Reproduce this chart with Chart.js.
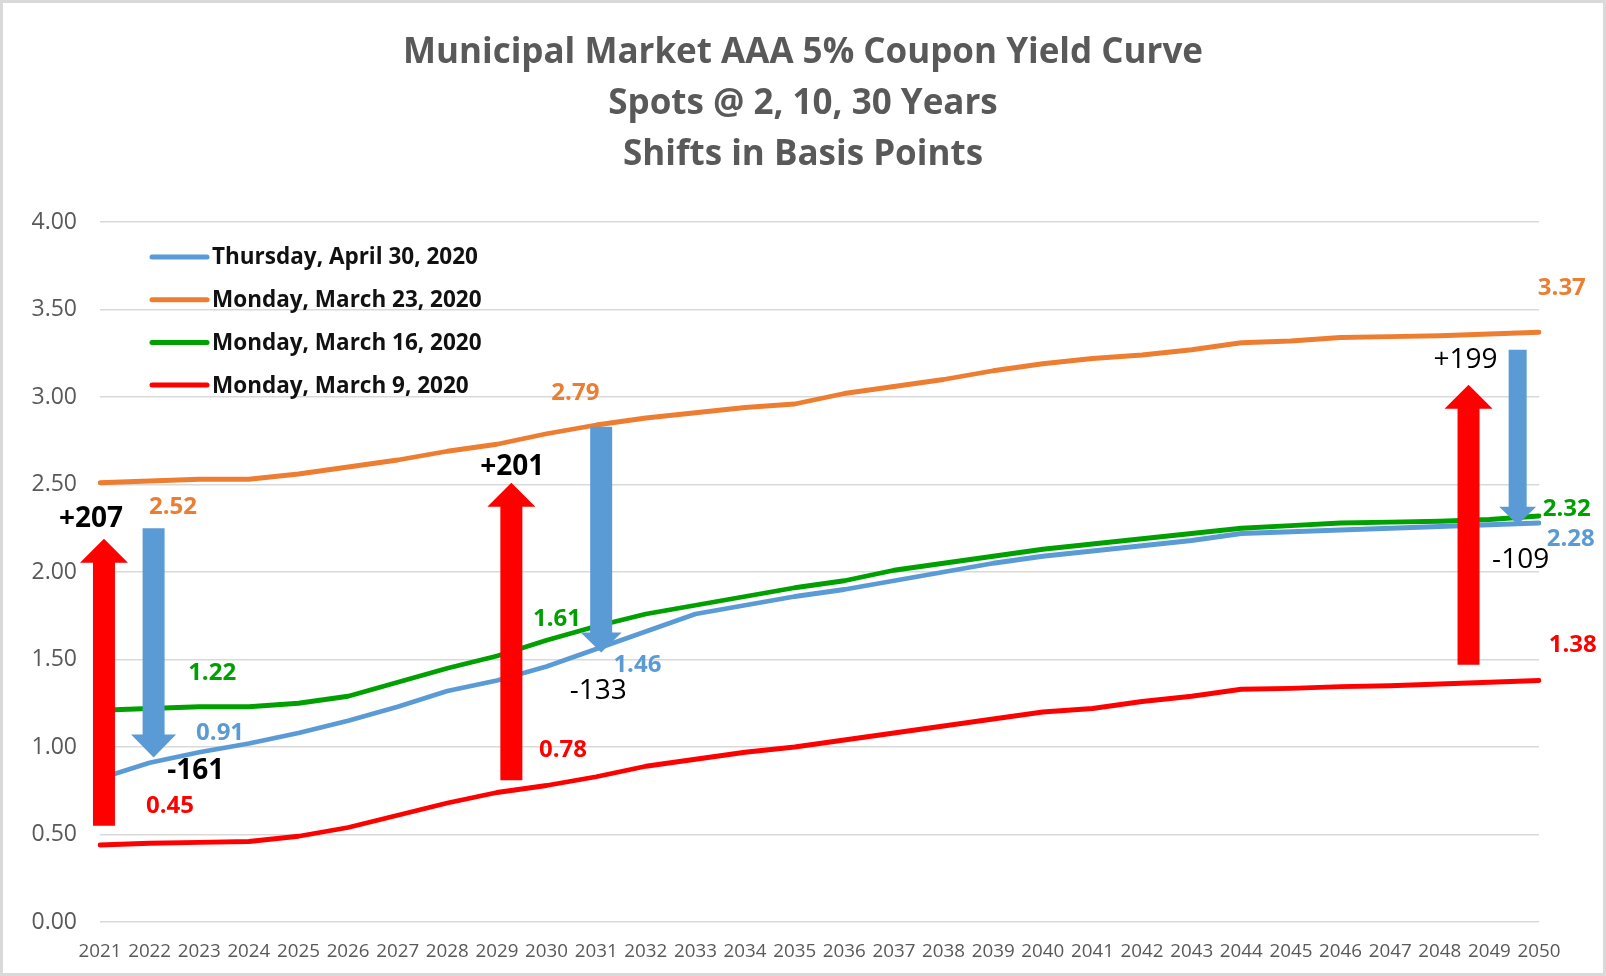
<!DOCTYPE html>
<html>
<head>
<meta charset="utf-8">
<title>Municipal Market AAA 5% Coupon Yield Curve</title>
<script src="https://cdn.jsdelivr.net/npm/chart.js@4.4.1/dist/chart.umd.min.js"></script>
<style>
    html, body { margin: 0; padding: 0; background: #fff; }
    #wrap { width: 1606px; height: 976px; position: relative; }
</style>
</head>
<body>
<div id="wrap"><canvas id="yieldChart"></canvas></div>
<script>
// ===== DATA =====
const years = ['2021', '2022', '2023', '2024', '2025', '2026', '2027', '2028', '2029', '2030',
               '2031', '2032', '2033', '2034', '2035', '2036', '2037', '2038', '2039', '2040',
               '2041', '2042', '2043', '2044', '2045', '2046', '2047', '2048', '2049', '2050'];

const april30 = [0.82, 0.91, 0.97, 1.02, 1.08, 1.15, 1.23, 1.32, 1.38, 1.46,
                 1.56, 1.66, 1.76, 1.81, 1.86, 1.90, 1.95, 2.00, 2.05, 2.09,
                 2.12, 2.15, 2.18, 2.22, 2.23, 2.24, 2.25, 2.26, 2.27, 2.28];

const march23 = [2.51, 2.52, 2.53, 2.53, 2.56, 2.60, 2.64, 2.69, 2.73, 2.79,
                 2.84, 2.88, 2.91, 2.94, 2.96, 3.02, 3.06, 3.10, 3.15, 3.19,
                 3.22, 3.24, 3.27, 3.31, 3.32, 3.34, 3.345, 3.35, 3.36, 3.37];

const march16 = [1.21, 1.22, 1.23, 1.23, 1.25, 1.29, 1.37, 1.45, 1.52, 1.61,
                 1.69, 1.76, 1.81, 1.86, 1.91, 1.95, 2.01, 2.05, 2.09, 2.13,
                 2.16, 2.19, 2.22, 2.25, 2.265, 2.28, 2.285, 2.29, 2.30, 2.32];

const march9 = [0.44, 0.45, 0.455, 0.46, 0.49, 0.54, 0.61, 0.68, 0.74, 0.78,
                0.83, 0.89, 0.93, 0.97, 1.00, 1.04, 1.08, 1.12, 1.16, 1.20,
                1.22, 1.26, 1.29, 1.33, 1.335, 1.345, 1.35, 1.36, 1.37, 1.38];

const seriesNames = ['Thursday, April 30, 2020', 'Monday, March 23, 2020',
                     'Monday, March 16, 2020', 'Monday, March 9, 2020'];

const yTicks = [0, 0.5, 1, 1.5, 2, 2.5, 3, 3.5, 4];

// spots @ 2, 10, 30 years (index into years)
const spotIdx = [1, 9, 29];

const titleLines = ['Municipal Market AAA 5% Coupon Yield Curve',
                    'Spots @ 2, 10, 30 Years',
                    'Shifts in Basis Points'];

// ===== STYLE =====
const colors = ['#5B9BD5', '#ED7D31', '#00A000', '#FF0000'];
const FONT = '"Open Sans", Lato, sans-serif';

// shift arrows: anchored in axis units (category index, yield)
const arrows = [
    { x: 0.08,  from: 0.55, to: 2.19, color: '#FF0000', shaft: 22, headW: 48, headL: 24, spot: 0, up: true,  lx: -0.18, ly: 2.30, bold: true },
    { x: 1.08,  from: 2.25, to: 0.94, color: '#5B9BD5', shaft: 22, headW: 45, headL: 23, spot: 0, up: false, lx: 1.93,  ly: 0.86, bold: true },
    { x: 8.29,  from: 0.81, to: 2.51, color: '#FF0000', shaft: 22, headW: 48, headL: 24, spot: 1, up: true,  lx: 8.31,  ly: 2.60, bold: true },
    { x: 10.1,  from: 2.83, to: 1.54, color: '#5B9BD5', shaft: 22, headW: 41, headL: 20, spot: 1, up: false, lx: 10.04, ly: 1.32, bold: false },
    { x: 27.58, from: 1.47, to: 3.07, color: '#FF0000', shaft: 22, headW: 48, headL: 24, spot: 2, up: true,  lx: 27.52, ly: 3.21, bold: false },
    { x: 28.57, from: 3.27, to: 2.27, color: '#5B9BD5', shaft: 18, headW: 37, headL: 18, spot: 2, up: false, lx: 28.63, ly: 2.07, bold: false }
];

// value call-outs: series index, point index, label anchor (category index, yield)
const callouts = [
    { s: 1, i: 1,  lx: 1.47,  ly: 2.37 },
    { s: 2, i: 1,  lx: 2.26,  ly: 1.42 },
    { s: 0, i: 1,  lx: 2.42,  ly: 1.08 },
    { s: 3, i: 1,  lx: 1.41,  ly: 0.66 },
    { s: 1, i: 9,  lx: 9.58,  ly: 3.02 },
    { s: 2, i: 9,  lx: 9.21,  ly: 1.73 },
    { s: 0, i: 9,  lx: 10.83, ly: 1.47 },
    { s: 3, i: 9,  lx: 9.33,  ly: 0.98 },
    { s: 1, i: 29, lx: 29.46, ly: 3.62 },
    { s: 2, i: 29, lx: 29.56, ly: 2.36 },
    { s: 0, i: 29, lx: 29.64, ly: 2.19 },
    { s: 3, i: 29, lx: 29.68, ly: 1.58 }
];

const allSeries = [april30, march23, march16, march9];

// ===== OVERLAY PLUGIN (background, legend, arrows, labels) =====
function drawArrow(ctx, px, y0, y1, a) {
    const dir = y1 < y0 ? -1 : 1;          // -1 = pointing up on screen
    const base = y1 - dir * a.headL;
    ctx.beginPath();
    ctx.moveTo(px - a.shaft / 2, y0);
    ctx.lineTo(px - a.shaft / 2, base);
    ctx.lineTo(px - a.headW / 2, base);
    ctx.lineTo(px, y1);
    ctx.lineTo(px + a.headW / 2, base);
    ctx.lineTo(px + a.shaft / 2, base);
    ctx.lineTo(px + a.shaft / 2, y0);
    ctx.closePath();
    ctx.fillStyle = a.color;
    ctx.fill();
}

function shiftText(a) {
    const k = spotIdx[a.spot];
    const diff = a.up ? march23[k] - march9[k] : april30[k] - march23[k];
    const bp = Math.round(diff * 100);
    return (bp > 0 ? '+' : '') + bp;
}

const overlayPlugin = {
    id: 'overlay',
    beforeDraw(chart) {
        const { ctx, width, height } = chart;
        ctx.save();
        ctx.fillStyle = '#ffffff';
        ctx.fillRect(0, 0, width, height);
        ctx.strokeStyle = '#d9d9d9';
        ctx.lineWidth = 3;
        ctx.strokeRect(1.5, 1.5, width - 3, height - 3);
        ctx.restore();
    },
    afterDatasetsDraw(chart) {
        const { ctx, chartArea } = chart;
        const xs = chart.scales.x;
        const ys = chart.scales.y;
        ctx.save();

        // legend inside the plot, top-left
        ctx.font = 'bold 22.5px ' + FONT;
        ctx.textBaseline = 'middle';
        ctx.textAlign = 'left';
        seriesNames.forEach((name, i) => {
            const ly = chartArea.top + 35 + i * 42.7;
            ctx.strokeStyle = colors[i];
            ctx.lineWidth = 5;
            ctx.lineCap = 'round';
            ctx.beginPath();
            ctx.moveTo(chartArea.left + 52, ly);
            ctx.lineTo(chartArea.left + 107, ly);
            ctx.stroke();
            ctx.fillStyle = '#111111';
            ctx.fillText(name, chartArea.left + 112, ly + 1);
        });

        // arrows
        arrows.forEach(a => {
            drawArrow(ctx, xs.getPixelForValue(a.x), ys.getPixelForValue(a.from), ys.getPixelForValue(a.to), a);
        });

        // shift labels
        ctx.textAlign = 'center';
        ctx.fillStyle = '#000000';
        arrows.forEach(a => {
            ctx.font = (a.bold ? 'bold ' : '') + '28px ' + FONT;
            ctx.fillText(shiftText(a), xs.getPixelForValue(a.lx), ys.getPixelForValue(a.ly));
        });

        // value call-outs
        ctx.font = 'bold 24px ' + FONT;
        callouts.forEach(c => {
            ctx.fillStyle = colors[c.s];
            ctx.fillText(allSeries[c.s][c.i].toFixed(2), xs.getPixelForValue(c.lx), ys.getPixelForValue(c.ly));
        });

        ctx.restore();
    }
};

// ===== CHART =====
function initYieldChart() {
    const ctx = document.getElementById('yieldChart');

    const datasets = allSeries.map((vals, i) => ({
        label: seriesNames[i],
        data: vals,
        borderColor: colors[i],
        backgroundColor: colors[i],
        borderWidth: 4.8,
        pointRadius: 0,
        tension: 0,
        borderJoinStyle: 'round',
        borderCapStyle: 'round',
        order: 4 - i
    }));

    new Chart(ctx, {
        type: 'line',
        data: { labels: years, datasets: datasets },
        options: {
            responsive: true,
            maintainAspectRatio: false,
            animation: false,
            layout: { padding: 0 },
            plugins: {
                legend: { display: false },
                tooltip: { enabled: false },
                title: {
                    display: true,
                    text: titleLines,
                    color: '#595959',
                    font: { family: FONT, size: 35, weight: 'bold', lineHeight: '51px' },
                    padding: { top: 28, bottom: 41 }
                }
            },
            scales: {
                x: {
                    offset: false,
                    grid: { display: false },
                    border: { display: false },
                    ticks: {
                        color: '#595959',
                        font: { family: FONT, size: 18.8 },
                        autoSkip: false,
                        maxRotation: 0,
                        minRotation: 0,
                        padding: 10
                    },
                    afterFit(scale) { scale.height = 54; }
                },
                y: {
                    min: 0,
                    max: 4,
                    afterBuildTicks(scale) { scale.ticks = yTicks.map(v => ({ value: v })); },
                    grid: { color: '#d9d9d9', lineWidth: 1.5, drawTicks: false },
                    border: { display: false },
                    ticks: {
                        color: '#595959',
                        font: { family: FONT, size: 23 },
                        padding: 23,
                        callback: v => Number(v).toFixed(2)
                    },
                    afterFit(scale) { scale.width = 100; }
                },
                // empty right-hand gutter, keeps the title centred on the page
                gutter: {
                    type: 'linear',
                    position: 'right',
                    display: true,
                    grid: { display: false },
                    border: { display: false },
                    ticks: { display: false },
                    afterFit(scale) { scale.width = 67; }
                }
            }
        },
        plugins: [overlayPlugin]
    });
}

document.addEventListener('DOMContentLoaded', initYieldChart);
</script>
</body>
</html>
